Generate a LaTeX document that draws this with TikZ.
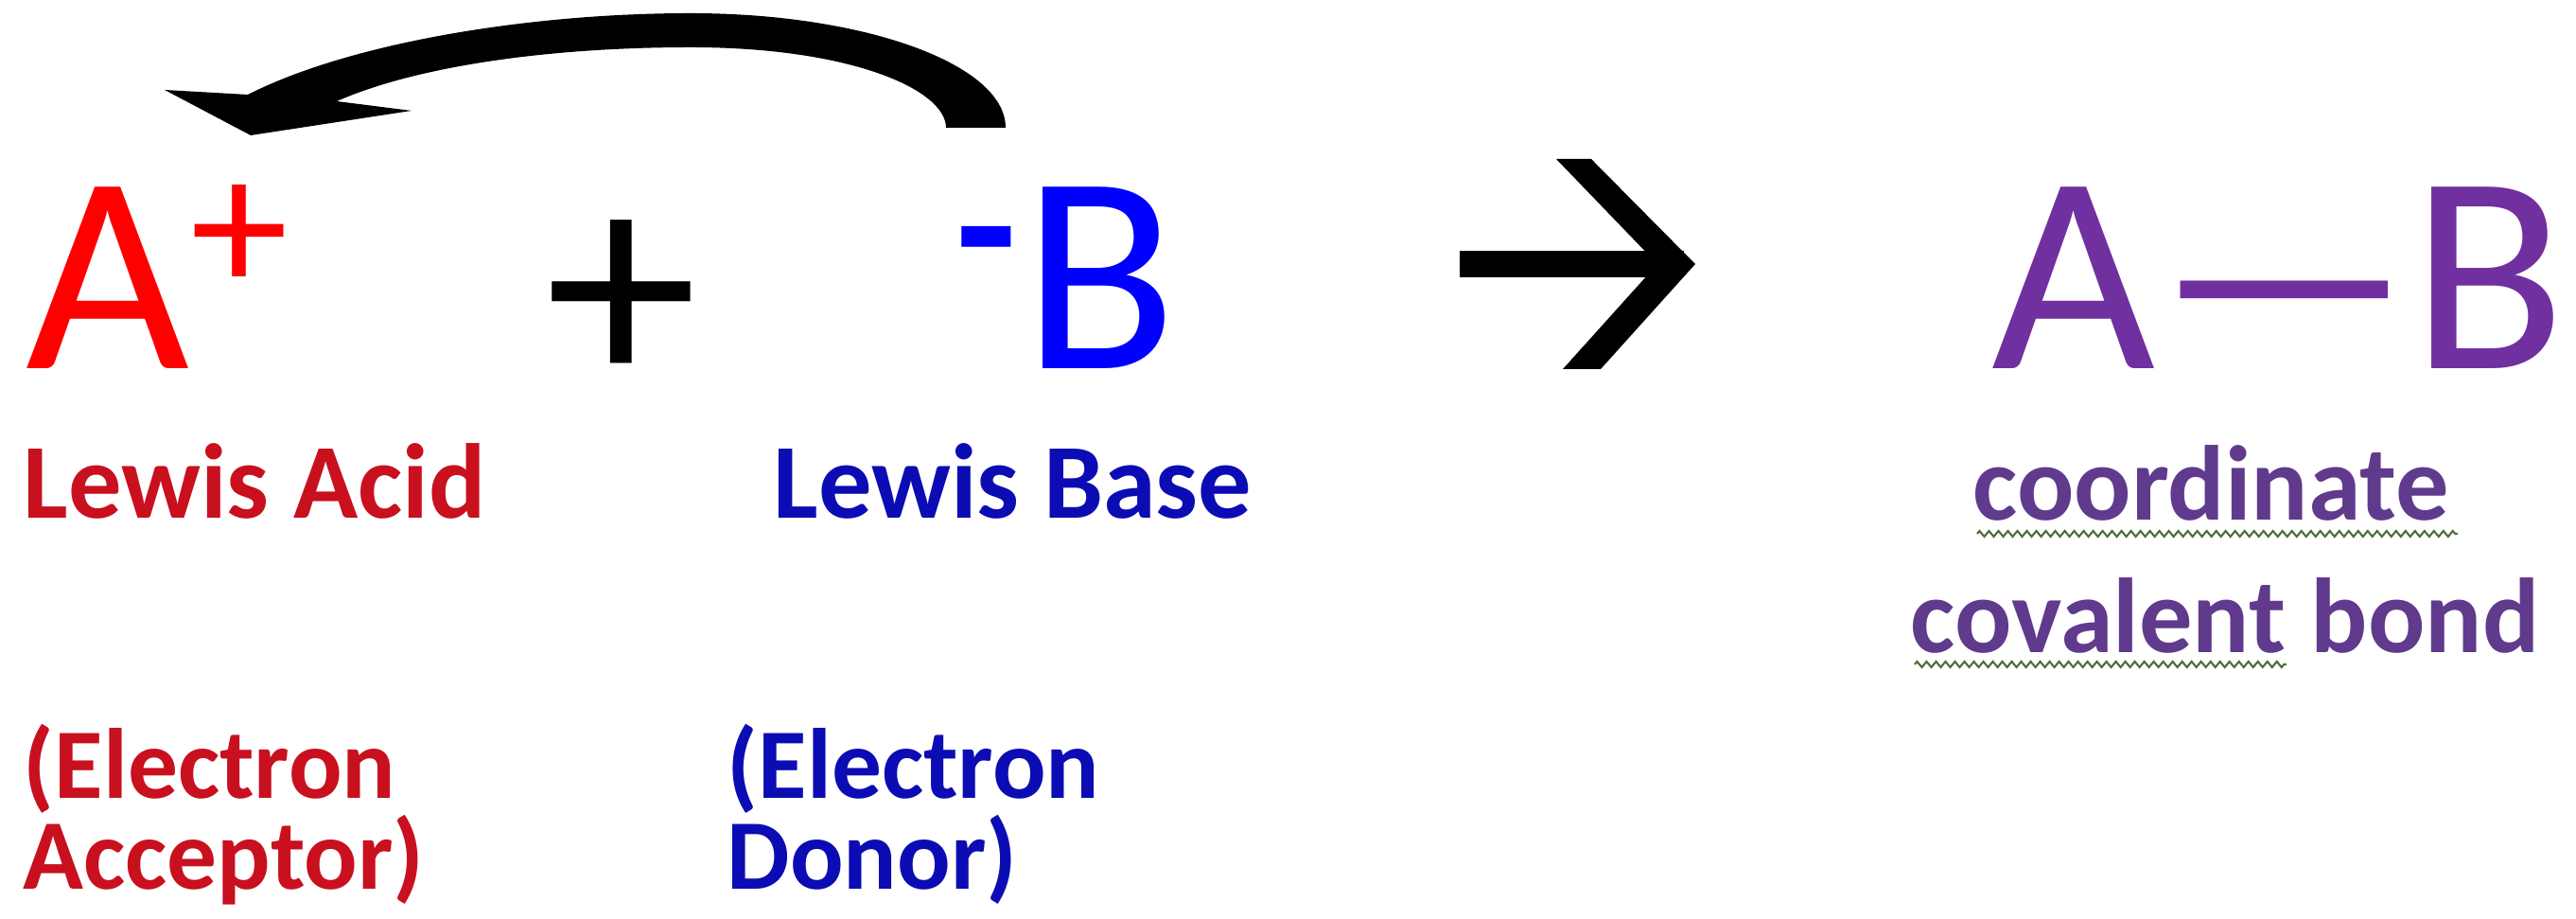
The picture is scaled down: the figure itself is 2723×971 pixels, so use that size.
\documentclass[tikz,border=0pt]{standalone}
\usepackage{fontspec}
\setmainfont{Carlito}
\usepackage{xcolor}
\usepackage{tikz}
\usetikzlibrary{positioning,calc,decorations.pathmorphing}
\definecolor{acid}{HTML}{FF0000}
\definecolor{acidlbl}{HTML}{C8101E}
\definecolor{donor}{HTML}{0000FF}
\definecolor{donorlbl}{HTML}{0C0CB4}
\definecolor{bondc}{HTML}{7030A0}
\definecolor{bondlbl}{HTML}{603A8C}
\definecolor{squig}{HTML}{4E6E3C}
\tikzset{
  letter/.style={inner sep=0pt,anchor=base,font=\fontsize{85}{100}\selectfont},
  charge/.style={inner sep=0pt,anchor=north},
  lbl/.style={inner sep=0pt,anchor=base west,align=left,font=\fontsize{32}{35.6}\selectfont\bfseries},
  sublbl/.style={lbl,font=\fontsize{30}{27.5}\selectfont\bfseries},
  plbl/.style={inner sep=0pt,anchor=base west,text=bondlbl,font=\fontsize{32}{36}\selectfont\bfseries},
  wavy/.style={draw=squig,line width=0.6pt,decorate,decoration={zigzag,segment length=0.1cm,amplitude=0.03cm}}
}
\begin{document}
\begin{tikzpicture}[x=0.01cm,y=-0.01cm]
  \useasboundingbox (0,0) rectangle (2723,971);
  % reactants
  \node[letter,text=acid] (A) at (114,390) {A};
  \node[charge,text=acid,font=\fontsize{59}{60}\selectfont] (Aq) at (253,195) {+};
  \node[charge,font=\fontsize{92}{96}\selectfont] (plus) at (657,232) {+};
  \node[charge,text=donor,font=\fontsize{60}{60}\selectfont\bfseries] (Bq) at (1043,239) {-};
  \node[letter,text=donor] (B) at (1163,390) {B};

  % electron pair arrow, base to acid
  \fill (1000,135) -- (1063,135)
    .. controls (1063,68) and (914,14) .. (730,14)
    .. controls (560,14) and (370,45) .. (262,100)
    -- (174,95) -- (265,143) -- (435,117) -- (356,107)
    .. controls (440,70) and (580,50) .. (730,50)
    .. controls (900,50) and (1000,95) .. (1000,135) -- cycle;

  % reaction arrow
  \coordinate (r0) at (1543,265);
  \coordinate (r1) at (1780,293);
  \fill (r0) rectangle (r1);
  \fill (1645,168) -- (1682,168) -- (1792,279) -- (1692,390) -- (1652,390) -- (1752,279) -- cycle;

  % product
  \node[letter,text=bondc] (AB) at (2409,390) {A—B};

  % labels
  \node[lbl,text=acidlbl] (acid) at (24,548) {Lewis Acid};
  \node[lbl,text=donorlbl] (base) at (817,548) {Lewis Base};
  \node[sublbl,text=acidlbl] (acc) at (24,940) {(Electron\\Acceptor)};
  \node[sublbl,text=donorlbl] (don) at (768,940) {(Electron\\Donor)};

  \node[plbl] (cd) at (2085,550) {coordinate};
  \node[plbl] (cov) at (2019,690) {covalent};
  \node[plbl] (bnd) at ($(cov.base east)+(25,0)$) {bond};
  \draw[wavy] ($(cd.base west)+(5,14)$) -- ($(cd.base east)+(8,14)$);
  \draw[wavy] ($(cov.base west)+(5,12)$) -- ($(cov.base east)+(0,12)$);
\end{tikzpicture}
\end{document}
